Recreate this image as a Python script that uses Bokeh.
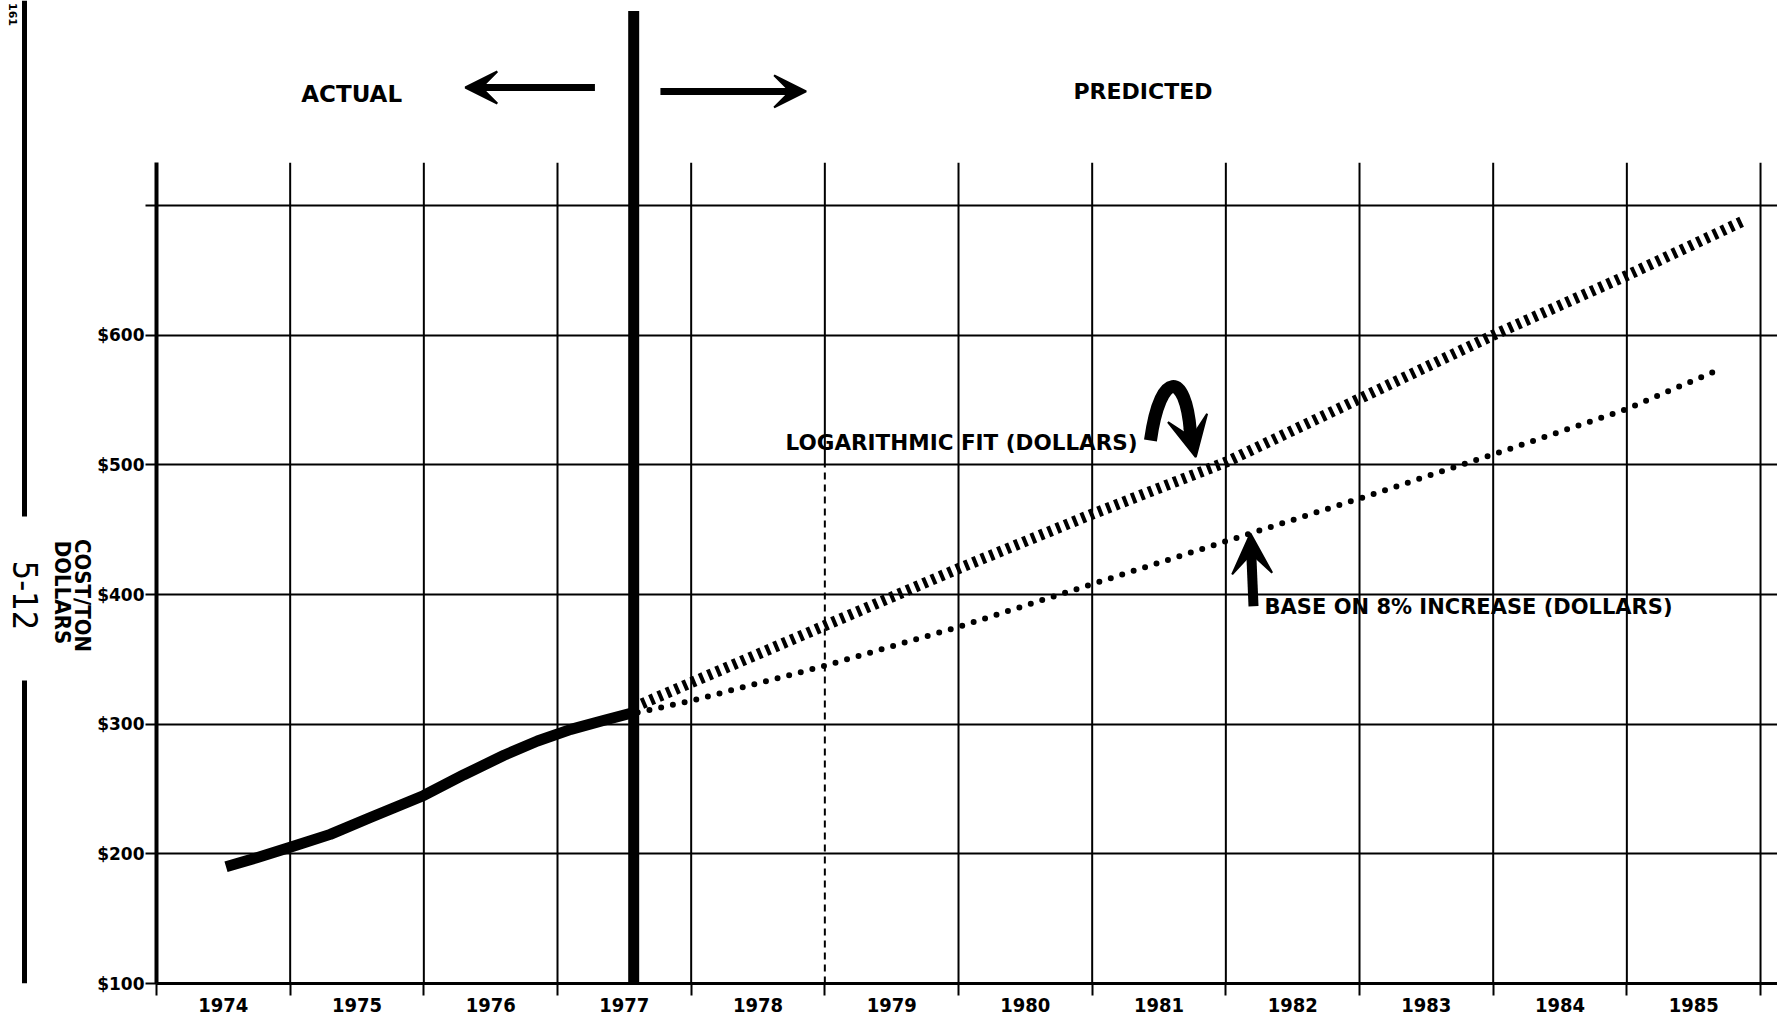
import math
from bokeh.plotting import figure
from bokeh.layouts import row
from bokeh.models import (FixedTicker, PrintfTickFormatter, Label, Arrow, VeeHead, Range1d)
from bokeh.core.properties import value
from bokeh.embed import file_html
from bokeh.resources import INLINE

# ---------------- data ----------------
year_edges = list(range(1974, 1987))
year_label_pos = [y + 0.5 for y in range(1974, 1986)]
y_ticks = [100, 200, 300, 400, 500, 600]
y_grid = [100, 200, 300, 400, 500, 600, 700]
grid_top = 733

actual_years = [1974.52, 1974.75, 1975.0, 1975.3, 1975.6, 1976.0, 1976.3, 1976.6, 1976.85,
                1977.1, 1977.35, 1977.57]
actual_cost = [190, 197, 205, 215, 228, 245, 261, 276, 287, 296, 303, 309]

log_years = [1977.57, 1978, 1979, 1980, 1981, 1982, 1983, 1984, 1985, 1985.87]
log_cost = [313, 332, 376, 420, 462, 502, 551, 600, 646, 688]

inc_years = [1977.6, 1978, 1979, 1980, 1981, 1982, 1983, 1984, 1985, 1985.7]
inc_cost = [309, 318, 345, 375, 408, 441, 474, 508, 543, 574]

divider_year = 1977.57
divider_top = 850
faded_edge = 1979
faded_below = 500

# annotation anchors (data units)
actual_xy = (1975.46, 786)
predicted_xy = (1981.38, 788)
left_arrow = (1977.28, 791, 1976.31, 791)
right_arrow = (1977.77, 788, 1978.86, 788)
log_text_xy = (1981.34, 517)
log_hook = dict(x0=1981.436, y0=518.8, cx0=1981.511, cy0=573, cx1=1981.698, cy1=573,
                x1=1981.735, y1=525.4)
log_head = (1981.728, 529, 1981.775, 506)
inc_text_xy = (1982.29, 390)
inc_arrow = (1982.207, 391, 1982.184, 447)

# left page margin marks (page pixels)
margin_texts = ["COST/TON", "DOLLARS", "5-12", "161"]
margin_x = [82, 62, 25, 12]
margin_y = [595, 592, 595, 14]
margin_size = ["22px", "22px", "34px", "11px"]
margin_style = ["bold", "bold", "normal", "bold"]
bar_x = [24, 24]
bar_top = [0, 680]
bar_bottom = [516, 983]

FONT = "DejaVu Sans"
CFONT = "DejaVu Sans Condensed"
W, H = 1777, 1020
LEFT_W = 94
FRAME_BOTTOM = 983

# ---------------- left margin panel ----------------
m = figure(width=LEFT_W, height=H, x_range=Range1d(0, LEFT_W), y_range=Range1d(FRAME_BOTTOM, 0),
           output_backend="svg", toolbar_location=None, min_border=0, title=None)
m.axis.visible = False
m.grid.visible = False
m.outline_line_color = None
m.segment(x0=bar_x, y0=bar_top, x1=bar_x, y1=bar_bottom, line_color="black", line_width=5)
for t, x, y, s, st in zip(margin_texts, margin_x, margin_y, margin_size, margin_style):
    m.text(x=[x], y=[y], text=[t], angle=-math.pi / 2, text_align="center", text_baseline="middle",
           text_font=value(CFONT if t != "161" else FONT), text_font_style=st, text_font_size=s,
           text_color="black")

# ---------------- main chart ----------------
p = figure(width=W - LEFT_W, height=H, title=None,
           x_range=Range1d(1974, 1986.127), y_range=Range1d(100, 858.1),
           output_backend="svg", toolbar_location=None,
           min_border_left=156 - LEFT_W, min_border_right=0, min_border_top=0,
           min_border_bottom=H - FRAME_BOTTOM)
p.outline_line_color = None
p.background_fill_color = "white"
p.border_fill_color = "white"

xa = p.xaxis[0]
xa.ticker = FixedTicker(ticks=year_label_pos, minor_ticks=year_edges)
xa.formatter = PrintfTickFormatter(format="%d")
xa.major_tick_line_color = None
xa.major_tick_out = 10
xa.major_tick_in = 0
xa.minor_tick_out = 12
xa.minor_tick_in = 0
xa.minor_tick_line_width = 2
xa.minor_tick_line_color = "black"
xa.axis_line_width = 3
xa.axis_line_color = "black"
xa.major_label_standoff = 2
xa.major_label_text_font = CFONT
xa.major_label_text_font_style = "bold"
xa.major_label_text_font_size = "20px"
xa.major_label_text_color = "black"

ya = p.yaxis[0]
ya.ticker = FixedTicker(ticks=y_ticks, minor_ticks=[700])
ya.formatter = PrintfTickFormatter(format="$%d")
ya.bounds = (100, grid_top)
ya.axis_line_width = 4
ya.axis_line_color = "black"
ya.major_tick_out = 11
ya.major_tick_in = 0
ya.major_tick_line_width = 2
ya.major_tick_line_color = "black"
ya.minor_tick_out = 11
ya.minor_tick_in = 0
ya.minor_tick_line_width = 2
ya.minor_tick_line_color = "black"
ya.major_label_standoff = 1
ya.major_label_text_font = FONT
ya.major_label_text_font_style = "bold"
ya.major_label_text_font_size = "17px"
ya.major_label_text_color = "black"

p.xgrid.visible = False
p.ygrid.ticker = FixedTicker(ticks=y_grid)
p.ygrid.grid_line_color = "black"
p.ygrid.grid_line_width = 2
p.ygrid.grid_line_alpha = 1

# vertical grid lines (year boundaries)
solid_edges = [e for e in year_edges[1:] if e != faded_edge]
p.segment(x0=solid_edges, y0=100, x1=solid_edges, y1=grid_top, line_color="black", line_width=2)
p.segment(x0=[faded_edge], y0=[faded_below], x1=[faded_edge], y1=[grid_top], line_color="black", line_width=2)
p.segment(x0=[faded_edge], y0=[100], x1=[faded_edge], y1=[faded_below], line_color="black",
          line_width=2, line_dash="7 5")

# series
p.line(log_years, log_cost, line_color="black", line_width=11, line_dash="4 5", line_cap="butt")
p.line(inc_years, inc_cost, line_color="black", line_width=6, line_dash="0 12", line_cap="round")
p.line(actual_years, actual_cost, line_color="black", line_width=11, line_join="round", line_cap="butt")

# divider between actual and predicted
p.segment(x0=[divider_year], y0=[100], x1=[divider_year], y1=[divider_top], line_color="black", line_width=11)

# header
p.add_layout(Label(x=actual_xy[0], y=actual_xy[1], text="ACTUAL", text_align="center", text_baseline="middle",
                   text_font=FONT, text_font_style="bold", text_font_size="23px", text_color="black"))
p.add_layout(Label(x=predicted_xy[0], y=predicted_xy[1], text="PREDICTED", text_align="center",
                   text_baseline="middle", text_font=FONT, text_font_style="bold", text_font_size="22px",
                   text_color="black"))
for (xs, ys, xe, ye) in (left_arrow, right_arrow):
    p.add_layout(Arrow(end=VeeHead(size=32, fill_color="black", line_color="black", line_width=2),
                       x_start=xs, y_start=ys, x_end=xe, y_end=ye, line_width=7, line_color="black"))

# logarithmic note
p.add_layout(Label(x=log_text_xy[0], y=log_text_xy[1], text="LOGARITHMIC FIT (DOLLARS)", text_align="right",
                   text_baseline="middle", text_font=FONT, text_font_style="bold", text_font_size="21.5px",
                   text_color="black"))
p.bezier(x0=[log_hook["x0"]], y0=[log_hook["y0"]], x1=[log_hook["x1"]], y1=[log_hook["y1"]],
         cx0=[log_hook["cx0"]], cy0=[log_hook["cy0"]], cx1=[log_hook["cx1"]], cy1=[log_hook["cy1"]],
         line_color="black", line_width=13)
p.add_layout(Arrow(end=VeeHead(size=40, fill_color="black", line_color="black", line_width=2),
                   x_start=log_head[0], y_start=log_head[1], x_end=log_head[2], y_end=log_head[3],
                   line_width=12, line_color="black"))

# 8% note
p.add_layout(Label(x=inc_text_xy[0], y=inc_text_xy[1], text="BASE ON 8% INCREASE (DOLLARS)", text_align="left",
                   text_baseline="middle", text_font=FONT, text_font_style="bold", text_font_size="21px",
                   text_color="black"))
p.add_layout(Arrow(end=VeeHead(size=40, fill_color="black", line_color="black", line_width=2),
                   x_start=inc_arrow[0], y_start=inc_arrow[1], x_end=inc_arrow[2], y_end=inc_arrow[3],
                   line_width=10, line_color="black"))

layout = row(m, p, spacing=0)
open("out.html", "w").write(file_html(layout, INLINE, title="Cost per ton"))
